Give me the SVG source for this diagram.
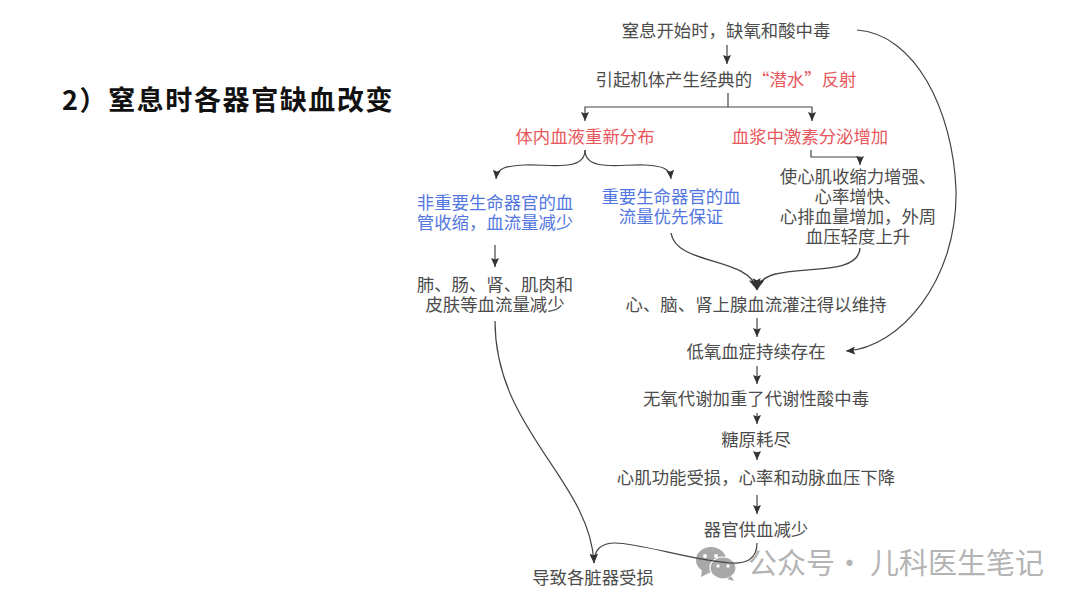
<svg xmlns="http://www.w3.org/2000/svg" width="1080" height="608" viewBox="0 0 1080 608">
<style>
text{font-family:"Noto Sans CJK SC","Noto Sans",sans-serif;font-size:17.4px;fill:#4c4c4c;text-anchor:middle}
.r{fill:#e8575c}
.b{fill:#5377e0}
.title{font-size:27px;font-weight:700;fill:#111;text-anchor:start;letter-spacing:1.6px}
.wm{font-size:29px;fill:#b4b4b4;text-anchor:start}
.c{fill:none;stroke:#444;stroke-width:1.2;marker-end:url(#a)}
.m{fill:none;stroke:#444;stroke-width:1.4;marker-end:url(#big)}
.n{fill:none;stroke:#444;stroke-width:1.2}
</style>
<defs>
<marker id="a" markerUnits="userSpaceOnUse" markerWidth="11" markerHeight="9" refX="9" refY="4" orient="auto"><path d="M0 0L9 4L0 8L1.5 4Z" fill="#333"/></marker>
<marker id="big" markerUnits="userSpaceOnUse" markerWidth="14" markerHeight="14" refX="11" refY="6" orient="auto"><path d="M0 0L11 6L0 12L2 6Z" fill="#333"/></marker>
</defs>
<rect width="1080" height="608" fill="#fff"/>
<text id="title" class="title" x="62" y="110">2）窒息时各器官缺血改变</text>
<g id="watermark">
<g fill="#a8a8a8"><ellipse cx="711" cy="560" rx="15" ry="13"/><path d="M702 570l-1 7 8-4z"/></g>
<ellipse cx="723" cy="568" rx="13" ry="11" fill="#a8a8a8" stroke="#fff" stroke-width="1.2"/>
<path d="M731 576l3 5-7-2z" fill="#a8a8a8"/>
<g fill="#fff"><circle cx="705" cy="556" r="2"/><circle cx="716" cy="556" r="2"/><circle cx="718" cy="566" r="1.7"/><circle cx="728" cy="566" r="1.7"/></g>
<text class="wm" x="748" y="574">公众号</text>
<text class="wm" x="835" y="574">·</text>
<text class="wm" x="870" y="574">儿科医生笔记</text>
</g>
<g id="connectors">
<path class="c" d="M727 45V64"/>
<path class="n" d="M728 93V107"/>
<path class="c" d="M728 107H585V121"/>
<path class="c" d="M728 107H812V121"/>
<path class="c" d="M585 150C585 172 550 164 525 165C505 166 497 168 496 179"/>
<path class="c" d="M585 150C585 172 620 164 645 165C662 166 670 168 671 179"/>
<path class="c" d="M811 150V157H860V165"/>
<path class="c" d="M495 245V267"/>
<path class="m" d="M671 233C676 266 750 256 757 290"/>
<path class="m" d="M860 248C858 284 762 256 757 290"/>
<path class="c" d="M757 318V337"/>
<path class="c" d="M757 366V384"/>
<path class="c" d="M757 413V424"/>
<path class="c" d="M757 452V460"/>
<path class="c" d="M757 495V514"/>
<path class="c" d="M857 30C915 34 953 110 956 190C958 280 900 348 846 351"/>
<path class="c" d="M495 321C495 430 590 480 594 563"/>
<path class="c" d="M757 543C757 560 745 564 730 563C690 560 640 543 615 543C600 543 594 550 594 563"/>
</g>
<g id="n1"><text x="726" y="37">窒息开始时，缺氧和酸中毒</text></g>
<g id="n2"><text x="726" y="86">引起机体产生经典的<tspan class="r">“潜水”反射</tspan></text></g>
<g id="n3"><text class="r" x="585" y="143">体内血液重新分布</text></g>
<g id="n4"><text class="r" x="810" y="143">血浆中激素分泌增加</text></g>
<g id="n5"><text class="b"><tspan x="495" y="209">非重要生命器官的血</tspan><tspan x="495" y="229">管收缩，血流量减少</tspan></text></g>
<g id="n6"><text class="b"><tspan x="671" y="203">重要生命器官的血</tspan><tspan x="671" y="223">流量优先保证</tspan></text></g>
<g id="n7"><text><tspan x="858" y="183">使心肌收缩力增强、</tspan><tspan x="858" y="203">心率增快、</tspan><tspan x="858" y="223">心排血量增加，外周</tspan><tspan x="858" y="243">血压轻度上升</tspan></text></g>
<g id="n8"><text><tspan x="495" y="291">肺、肠、肾、肌肉和</tspan><tspan x="495" y="311">皮肤等血流量减少</tspan></text></g>
<g id="n9"><text x="756" y="311">心、脑、肾上腺血流灌注得以维持</text></g>
<g id="n10"><text x="756" y="358">低氧血症持续存在</text></g>
<g id="n11"><text x="756" y="405">无氧代谢加重了代谢性酸中毒</text></g>
<g id="n12"><text x="756" y="446">糖原耗尽</text></g>
<g id="n13"><text x="756" y="484">心肌功能受损，心率和动脉血压下降</text></g>
<g id="n14"><text x="756" y="536">器官供血减少</text></g>
<g id="n15"><text x="593" y="584">导致各脏器受损</text></g>
</svg>
